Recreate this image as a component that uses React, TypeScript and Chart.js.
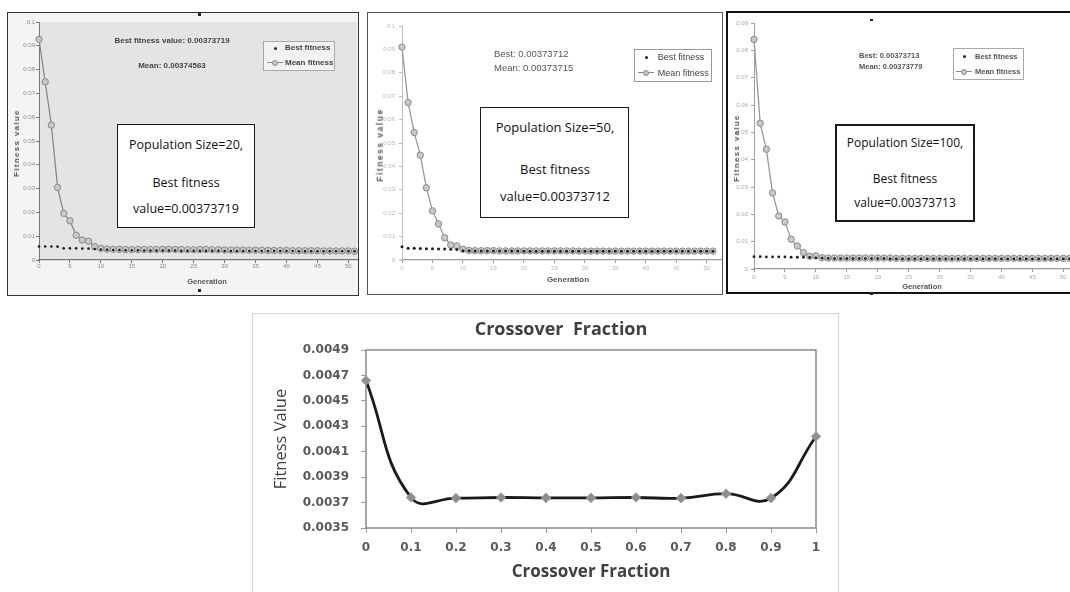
import React, { useEffect, useRef } from "react";
import { Chart, registerables } from "chart.js";

Chart.register(...registerables);

// ---------- data ----------
const GENERATIONS = [
  0, 1, 2, 3, 4, 5, 6, 7, 8, 9, 10, 11, 12, 13, 14, 15, 16, 17, 18, 19, 20, 21, 22, 23, 24, 25,
  26, 27, 28, 29, 30, 31, 32, 33, 34, 35, 36, 37, 38, 39, 40, 41, 42, 43, 44, 45, 46, 47, 48, 49, 50, 51,
];

const POP20_BEST = [
  0.0057, 0.0057, 0.0057, 0.0056, 0.0049, 0.0049, 0.0049, 0.0048, 0.0048, 0.0046,
  0.0044, 0.0043, 0.0042, 0.0042, 0.0041, 0.0041, 0.0041, 0.004, 0.004, 0.004,
  0.004, 0.004, 0.004, 0.0039, 0.0039, 0.0039, 0.0039, 0.0039, 0.0039, 0.0039,
  0.0038, 0.0038, 0.0038, 0.0038, 0.0038, 0.0038, 0.0038, 0.0038, 0.0038, 0.0038,
  0.0038, 0.0038, 0.0037, 0.0037, 0.0037, 0.0037, 0.0037, 0.0037, 0.0037, 0.0037,
  0.0037, 0.0037,
];
const POP20_MEAN = [
  0.0927, 0.0749, 0.0567, 0.0305, 0.0196, 0.0165, 0.0104, 0.0084, 0.0079, 0.0056,
  0.0049, 0.0046, 0.0045, 0.0045, 0.0044, 0.0044, 0.0044, 0.0044, 0.0044, 0.0044,
  0.0045, 0.0045, 0.0044, 0.0044, 0.0043, 0.0043, 0.0044, 0.0044, 0.0043, 0.0043,
  0.0042, 0.0042, 0.0042, 0.0042, 0.0041, 0.0041, 0.0041, 0.004, 0.004, 0.004,
  0.004, 0.0039, 0.0039, 0.0039, 0.0039, 0.0039, 0.0038, 0.0038, 0.0038, 0.0038,
  0.0038, 0.0037,
];

const POP50_BEST = [
  0.0057, 0.005, 0.005, 0.0049, 0.0048, 0.0048, 0.0047, 0.0047, 0.0046, 0.0045,
  0.004, 0.0039, 0.0038, 0.0038, 0.0038, 0.0038, 0.0038, 0.0038, 0.0038, 0.0038,
  0.0037, 0.0037, 0.0037, 0.0037, 0.0037, 0.0037, 0.0037, 0.0037, 0.0037, 0.0037,
  0.0037, 0.0037, 0.0037, 0.0037, 0.0037, 0.0037, 0.0037, 0.0037, 0.0037, 0.0037,
  0.0037, 0.0037, 0.0037, 0.0037, 0.0037, 0.0037, 0.0037, 0.0037, 0.0037, 0.0037,
  0.0037, 0.0037,
];
const POP50_MEAN = [
  0.091, 0.0673, 0.0545, 0.0448, 0.0309, 0.021, 0.0154, 0.0095, 0.0064, 0.006,
  0.0046, 0.0041, 0.004, 0.004, 0.004, 0.004, 0.0039, 0.0039, 0.0039, 0.0039,
  0.0039, 0.0039, 0.0039, 0.0039, 0.0039, 0.0039, 0.0039, 0.0039, 0.0039, 0.0038,
  0.0038, 0.0038, 0.0038, 0.0038, 0.0038, 0.0038, 0.0038, 0.0038, 0.0038, 0.0038,
  0.0038, 0.0038, 0.0038, 0.0038, 0.0038, 0.0038, 0.0038, 0.0038, 0.0038, 0.0038,
  0.0038, 0.0038,
];

const POP100_BEST = [
  0.0045, 0.0045, 0.0044, 0.0044, 0.0044, 0.0044, 0.0043, 0.0043, 0.0043, 0.0042,
  0.0041, 0.004, 0.0039, 0.0038, 0.0038, 0.0038, 0.0038, 0.0038, 0.0038, 0.0038,
  0.0038, 0.0038, 0.0037, 0.0037, 0.0037, 0.0037, 0.0037, 0.0037, 0.0037, 0.0037,
  0.0037, 0.0037, 0.0037, 0.0037, 0.0037, 0.0037, 0.0037, 0.0037, 0.0037, 0.0037,
  0.0037, 0.0037, 0.0037, 0.0037, 0.0037, 0.0037, 0.0037, 0.0037, 0.0037, 0.0037,
  0.0037, 0.0037,
];
const POP100_MEAN = [
  0.084, 0.0533, 0.0438, 0.0278, 0.0194, 0.0172, 0.0109, 0.0084, 0.006, 0.0047,
  0.0048, 0.0041, 0.004, 0.004, 0.004, 0.004, 0.004, 0.004, 0.004, 0.004,
  0.004, 0.004, 0.004, 0.0039, 0.0039, 0.0039, 0.0039, 0.0039, 0.0039, 0.0039,
  0.0039, 0.0039, 0.0039, 0.0039, 0.0039, 0.0039, 0.0039, 0.0039, 0.0039, 0.0039,
  0.0039, 0.0039, 0.0039, 0.0039, 0.0039, 0.0039, 0.0039, 0.0039, 0.0039, 0.0039,
  0.0039, 0.0039,
];

const GEN_TICKS = [0, 5, 10, 15, 20, 25, 30, 35, 40, 45, 50];
const GEN_TICK_LABELS = ["0", "5", "10", "15", "20", "25", "30", "35", "40", "45", "50"];
const FIT_TICKS_A = [0, 0.01, 0.02, 0.03, 0.04, 0.05, 0.06, 0.07, 0.08, 0.09, 0.1];
const FIT_TICK_LABELS_A = ["0", "0.01", "0.02", "0.03", "0.04", "0.05", "0.06", "0.07", "0.08", "0.09", "0.1"];
const FIT_TICKS_B = [0, 0.01, 0.02, 0.03, 0.04, 0.05, 0.06, 0.07, 0.08, 0.09];
const FIT_TICK_LABELS_B = ["0", "0.01", "0.02", "0.03", "0.04", "0.05", "0.06", "0.07", "0.08", "0.09"];

const CROSSOVER_FRACTION = [0, 0.1, 0.2, 0.3, 0.4, 0.5, 0.6, 0.7, 0.8, 0.9, 1];
const CROSSOVER_FITNESS = [
  0.00466, 0.00374, 0.003735, 0.00374, 0.003737, 0.003737, 0.00374, 0.003735, 0.00377, 0.003735, 0.00422,
];
const CF_X_LABELS = ["0", "0.1", "0.2", "0.3", "0.4", "0.5", "0.6", "0.7", "0.8", "0.9", "1"];
const CF_Y_TICKS = [0.0035, 0.0037, 0.0039, 0.0041, 0.0043, 0.0045, 0.0047, 0.0049];
const CF_Y_LABELS = ["0.0035", "0.0037", "0.0039", "0.0041", "0.0043", "0.0045", "0.0047", "0.0049"];

// ---------- helpers ----------
const SANS = '"Liberation Sans", Arial, sans-serif';
const OPEN = '"Open Sans", sans-serif';
const DEJAVU = '"DejaVu Sans", Verdana, sans-serif';

const areaBgPlugin = (color?: string) => ({
  id: "areaBg",
  beforeDraw(chart: any) {
    if (!color) return;
    const { ctx, chartArea: a } = chart;
    ctx.save();
    ctx.fillStyle = color;
    ctx.fillRect(a.left, a.top, a.right - a.left, a.bottom - a.top);
    ctx.restore();
  },
});

const frameBoxPlugin = {
  id: "frameBox",
  beforeDatasetsDraw(chart: any) {
    const { ctx, chartArea: a } = chart;
    ctx.save();
    ctx.strokeStyle = "#8a8a8a";
    ctx.lineWidth = 1.5;
    ctx.strokeRect(a.left, a.top, a.right - a.left, a.bottom - a.top);
    ctx.restore();
  },
};

type PanelCfg = {
  left: number; top: number; width: number; height: number;
  yAxisW: number; xAxisH: number; padTop: number; padRight: number;
  xMax: number; yMax: number; yTicks: number[]; yTickLabels: string[];
  best: number[]; mean: number[];
  plotBg?: string; tickColor: string; axisColor: string; xAxisColor: string;
  yPad: number; xPad: number; meanLine: string; bestR: number;
};

function GaPanel({ cfg }: { cfg: PanelCfg }) {
  const ref = useRef<HTMLCanvasElement>(null);
  useEffect(() => {
    const c = ref.current!;
    const chart = new Chart(c, {
      type: "line",
      data: {
        labels: GENERATIONS,
        datasets: [
          {
            label: "Best fitness",
            data: cfg.best,
            showLine: false,
            pointRadius: cfg.bestR,
            pointBackgroundColor: "#1e1e1e",
            pointBorderWidth: 0,
            clip: false as any,
          },
          {
            label: "Mean fitness",
            data: cfg.mean,
            borderColor: cfg.meanLine,
            borderWidth: 1.3,
            pointRadius: 3.2,
            pointBackgroundColor: "#c8c8c8",
            pointBorderColor: "#8a8a8a",
            pointBorderWidth: 1,
            tension: 0,
            clip: false as any,
          },
        ],
      },
      options: {
        responsive: false,
        animation: false,
        events: [],
        layout: {
          padding: { top: cfg.padTop, right: cfg.padRight, left: 0, bottom: 0 },
          autoPadding: false,
        } as any,
        plugins: { legend: { display: false }, tooltip: { enabled: false } },
        scales: {
          x: {
            type: "linear",
            min: 0,
            max: cfg.xMax,
            afterBuildTicks: (s: any) => {
              s.ticks = GEN_TICKS.map((v) => ({ value: v }));
            },
            afterFit: (s: any) => {
              s.height = cfg.xAxisH;
            },
            ticks: {
              autoSkip: false,
              maxRotation: 0,
              padding: cfg.xPad,
              color: cfg.tickColor,
              font: { size: 6, family: SANS },
              callback: (_v: any, i: number) => GEN_TICK_LABELS[i],
            },
            grid: { drawOnChartArea: false, drawTicks: true, tickLength: 3, color: cfg.xAxisColor },
            border: { color: cfg.xAxisColor, width: 1.2 },
          },
          y: {
            type: "linear",
            min: 0,
            max: cfg.yMax,
            afterBuildTicks: (s: any) => {
              s.ticks = cfg.yTicks.map((v) => ({ value: v }));
            },
            afterFit: (s: any) => {
              s.width = cfg.yAxisW;
            },
            ticks: {
              autoSkip: false,
              padding: cfg.yPad,
              color: cfg.tickColor,
              font: { size: 6, family: SANS },
              callback: (_v: any, i: number) => cfg.yTickLabels[i],
            },
            grid: { drawOnChartArea: false, drawTicks: true, tickLength: 3, color: cfg.axisColor },
            border: { color: cfg.axisColor, width: 1 },
          },
        },
      } as any,
      plugins: [areaBgPlugin(cfg.plotBg)],
    });
    return () => chart.destroy();
  }, []);
  return (
    <canvas
      ref={ref}
      width={cfg.width}
      height={cfg.height}
      style={{ position: "absolute", left: cfg.left, top: cfg.top, width: cfg.width, height: cfg.height }}
    />
  );
}

function CrossoverChart() {
  const ref = useRef<HTMLCanvasElement>(null);
  useEffect(() => {
    const c = ref.current!;
    const chart = new Chart(c, {
      type: "line",
      data: {
        labels: CROSSOVER_FRACTION,
        datasets: [
          {
            label: "Fitness Value",
            data: CROSSOVER_FITNESS,
            borderColor: "#1a1a1a",
            borderWidth: 2.8,
            tension: 0.45,
            pointStyle: "rectRot",
            pointRadius: 4.8,
            pointBackgroundColor: "#8e8e8e",
            pointBorderColor: "#a0a0a0",
            pointBorderWidth: 1,
            clip: false as any,
          },
        ],
      },
      options: {
        responsive: false,
        animation: false,
        events: [],
        layout: { padding: { top: 37, right: 22, left: 0, bottom: 0 }, autoPadding: false } as any,
        plugins: { legend: { display: false }, tooltip: { enabled: false } },
        scales: {
          x: {
            type: "linear",
            min: 0,
            max: 1,
            afterBuildTicks: (s: any) => {
              s.ticks = CROSSOVER_FRACTION.map((v) => ({ value: v }));
            },
            afterFit: (s: any) => {
              s.height = 64;
            },
            ticks: {
              autoSkip: false,
              maxRotation: 0,
              padding: 8,
              color: "#595959",
              font: { size: 12, family: DEJAVU, weight: "bold" },
              callback: (_v: any, i: number) => CF_X_LABELS[i],
            },
            grid: { drawOnChartArea: false, drawTicks: true, tickLength: 5, tickColor: "#9a9a9a", color: "#9a9a9a" },
            border: { display: false },
            title: {
              display: true,
              text: "Crossover Fraction",
              color: "#404040",
              font: { size: 17, family: OPEN, weight: "bold" },
              padding: { top: 0, bottom: 10 },
            },
          },
          y: {
            type: "linear",
            min: 0.0035,
            max: 0.0049,
            afterBuildTicks: (s: any) => {
              s.ticks = CF_Y_TICKS.map((v) => ({ value: v }));
            },
            afterFit: (s: any) => {
              s.width = 114;
            },
            ticks: {
              autoSkip: false,
              padding: 12,
              color: "#595959",
              font: { size: 12, family: DEJAVU, weight: "bold" },
              callback: (_v: any, i: number) => CF_Y_LABELS[i],
            },
            grid: { drawOnChartArea: false, drawTicks: true, tickLength: 5, tickColor: "#9a9a9a", color: "#9a9a9a" },
            border: { display: false },
            title: {
              display: true,
              text: "Fitness Value",
              color: "#404040",
              font: { size: 16.5, family: OPEN, weight: "normal" },
              padding: { top: 19, bottom: 0 },
            },
          },
        },
      } as any,
      plugins: [frameBoxPlugin],
    });
    return () => chart.destroy();
  }, []);
  return (
    <canvas
      ref={ref}
      width={586}
      height={279}
      style={{ position: "absolute", left: 252, top: 313, width: 586, height: 279 }}
    />
  );
}

type TProps = {
  x: number; y: number; text: string; size: number; bold?: boolean; color?: string;
  family?: string; anchor?: "left" | "center"; rotate?: boolean; ls?: number;
};
function T({ x, y, text, size, bold, color = "#333", family = SANS, anchor = "center", rotate, ls = 0 }: TProps) {
  const tx = anchor === "center" ? "-50%" : "0";
  return (
    <div
      style={{
        position: "absolute",
        left: x,
        top: y,
        transform: `translate(${tx}, -50%)${rotate ? " rotate(-90deg)" : ""}`,
        fontFamily: family,
        fontSize: size,
        fontWeight: bold ? 700 : 400,
        color,
        lineHeight: 1,
        whiteSpace: "pre",
        letterSpacing: ls,
      }}
    >
      {text}
    </div>
  );
}

type LegendProps = {
  left: number; top: number; right: number; bottom: number;
  markX: number; textX: number; row1: number; row2: number;
  size: number; bold?: boolean; color: string; bg: string; border: string;
};
function Legend(p: LegendProps) {
  return (
    <>
      <div
        style={{
          position: "absolute",
          left: p.left,
          top: p.top,
          width: p.right - p.left,
          height: p.bottom - p.top,
          boxSizing: "border-box",
          border: `1px solid ${p.border}`,
          background: p.bg,
        }}
      />
      <div
        style={{
          position: "absolute",
          left: p.markX - 1.5,
          top: p.row1 - 1.5,
          width: 3,
          height: 3,
          borderRadius: 2,
          background: "#222",
        }}
      />
      <div style={{ position: "absolute", left: p.markX - 8, top: p.row2 - 0.5, width: 16, height: 1.2, background: "#8a8a8a" }} />
      <div
        style={{
          position: "absolute",
          left: p.markX - 3,
          top: p.row2 - 3,
          width: 6,
          height: 6,
          boxSizing: "border-box",
          borderRadius: 3,
          border: "1px solid #8a8a8a",
          background: "#c8c8c8",
        }}
      />
      <T x={p.textX} y={p.row1} text="Best fitness" size={p.size} bold={p.bold} color={p.color} anchor="left" />
      <T x={p.textX} y={p.row2} text="Mean fitness" size={p.size} bold={p.bold} color={p.color} anchor="left" />
    </>
  );
}

type NoteProps = {
  left: number; top: number; w: number; h: number; bw: number; cx: number;
  lines: string[]; ys: number[]; size: number;
};
function Note(p: NoteProps) {
  return (
    <>
      <div
        style={{
          position: "absolute",
          left: p.left,
          top: p.top,
          width: p.w,
          height: p.h,
          boxSizing: "border-box",
          border: `${p.bw}px solid #1a1a1a`,
          background: "#fff",
        }}
      />
      {p.lines.map((s, i) => (
        <T key={i} x={p.cx} y={p.ys[i]} text={s} size={p.size} family={OPEN} color="#111" />
      ))}
    </>
  );
}

const Dot = ({ x, y }: { x: number; y: number }) => (
  <div style={{ position: "absolute", left: x - 1, top: y - 1, width: 2.5, height: 2.5, background: "#222" }} />
);

const PANEL20: PanelCfg = {
  left: 8, top: 12, width: 351, height: 284,
  yAxisW: 31, xAxisH: 36, padTop: 10, padRight: 2,
  xMax: 51.4, yMax: 0.1, yTicks: FIT_TICKS_A, yTickLabels: FIT_TICK_LABELS_A,
  best: POP20_BEST, mean: POP20_MEAN,
  plotBg: "#e4e4e4", tickColor: "#8a8a8a", axisColor: "#777", xAxisColor: "#777",
  yPad: 1, xPad: 0, meanLine: "#8a8a8a", bestR: 1.3,
};
const PANEL50: PanelCfg = {
  left: 368, top: 12, width: 354, height: 283,
  yAxisW: 34, xAxisH: 35, padTop: 14, padRight: 0,
  xMax: 52.5, yMax: 0.1, yTicks: FIT_TICKS_A, yTickLabels: FIT_TICK_LABELS_A,
  best: POP50_BEST, mean: POP50_MEAN,
  tickColor: "#b8b8b8", axisColor: "#bdbdbd", xAxisColor: "#999",
  yPad: 4, xPad: 2, meanLine: "#999", bestR: 1.5,
};
const PANEL100: PanelCfg = {
  left: 728, top: 13, width: 362, height: 280,
  yAxisW: 26, xAxisH: 24, padTop: 10, padRight: 5,
  xMax: 53.5, yMax: 0.09, yTicks: FIT_TICKS_B, yTickLabels: FIT_TICK_LABELS_B,
  best: POP100_BEST, mean: POP100_MEAN,
  tickColor: "#a8a8a8", axisColor: "#a0a0a0", xAxisColor: "#999",
  yPad: 3, xPad: 1.5, meanLine: "#999", bestR: 1.4,
};

export default function App() {
  return (
    <div
      style={{
        position: "fixed",
        left: 0,
        top: 0,
        width: 1070,
        height: 592,
        overflow: "hidden",
        background: "#fff",
      }}
    >
      {/* Panel 1: population 20 */}
      <div
        style={{
          position: "absolute", left: 7, top: 12, width: 352, height: 284,
          boxSizing: "border-box", border: "1px solid #333", background: "#f4f4f4",
        }}
      />
      <GaPanel cfg={PANEL20} />
      <T x={172} y={41} text="Best fitness value: 0.00373719" size={8} bold color="#444" />
      <T x={172} y={66} text="Mean: 0.00374563" size={8} bold color="#444" />
      <Legend left={263} top={41} right={335} bottom={70.5} markX={275} textX={285} row1={48} row2={62.7}
        size={8} bold color="#444" bg="#f2f2f2" border="#a8a8a8" />
      <Note left={117} top={124} w={138} h={104} bw={1} cx={186}
        lines={["Population Size=20,", "Best fitness", "value=0.00373719"]} ys={[145, 182.7, 209]} size={12.5} />
      <T x={17} y={143} text="Fitness value" size={8} bold color="#555" rotate ls={1.3} />
      <T x={207} y={282} text="Generation" size={7.5} bold color="#555" />
      <Dot x={199} y={14} />
      <Dot x={199} y={290} />

      {/* Panel 2: population 50 */}
      <div
        style={{
          position: "absolute", left: 367, top: 12, width: 356, height: 283,
          boxSizing: "border-box", border: "1px solid #555", background: "#fff",
        }}
      />
      <GaPanel cfg={PANEL50} />
      <T x={494} y={54} text="Best: 0.00373712" size={9.5} color="#555" anchor="left" />
      <T x={494} y={68.3} text="Mean: 0.00373715" size={9.5} color="#555" anchor="left" />
      <Legend left={634} top={48.7} right={712} bottom={81.7} markX={646} textX={657.7} row1={57.3} row2={72.7}
        size={9} color="#444" bg="#fff" border="#999" />
      <Note left={480} top={107} w={149} h={111} bw={1.5} cx={555}
        lines={["Population Size=50,", "Best fitness", "value=0.00373712"]} ys={[126.7, 169, 196]} size={13} />
      <T x={380} y={145} text="Fitness value" size={8.5} bold color="#555" rotate ls={1.5} />
      <T x={568} y={279.5} text="Generation" size={8} bold color="#555" />

      {/* Panel 3: population 100 */}
      <div
        style={{
          position: "absolute", left: 726, top: 11, width: 400, height: 283,
          boxSizing: "border-box", border: "2px solid #111", background: "#fff",
        }}
      />
      <GaPanel cfg={PANEL100} />
      <T x={859} y={56} text="Best: 0.00373713" size={7.5} bold color="#555" anchor="left" />
      <T x={859} y={66.7} text="Mean: 0.00373779" size={7.5} bold color="#555" anchor="left" />
      <Legend left={953} top={48.3} right={1024} bottom={80} markX={964.3} textX={975} row1={56.7} row2={71.7}
        size={7.5} bold color="#555" bg="#fff" border="#aaa" />
      <Note left={835} top={124.3} w={140} h={97.4} bw={2} cx={905}
        lines={["Population Size=100,", "Best fitness", "value=0.00373713"]} ys={[143.3, 179, 202.7]} size={12} />
      <T x={737} y={148} text="Fitness value" size={8} bold color="#555" rotate ls={1.3} />
      <T x={922} y={287} text="Generation" size={7.5} bold color="#555" />
      <Dot x={871} y={19.5} />
      <Dot x={871} y={293} />

      {/* Bottom: crossover fraction */}
      <div
        style={{
          position: "absolute", left: 252, top: 313, width: 587, height: 300,
          boxSizing: "border-box", border: "1px solid #d6d6d6", background: "#fff",
        }}
      />
      <CrossoverChart />
      <T x={561} y={328} text="Crossover  Fraction" size={18} bold color="#404040" family={OPEN} />
    </div>
  );
}
